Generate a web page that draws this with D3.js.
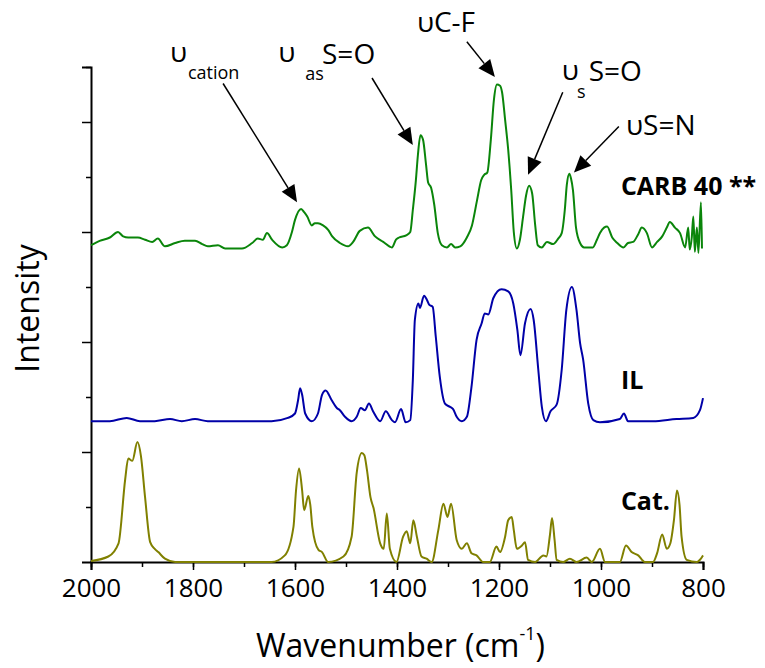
<!DOCTYPE html>
<html>
<head>
<meta charset="utf-8">
<script src="https://cdn.jsdelivr.net/npm/d3@7"></script>
<style>
  body { margin: 0; background: #fff; }
  text { font-family: "Open Sans", "DejaVu Sans", sans-serif; }
</style>
</head>
<body>
<div id="chart"></div>
<script>
// Spectra (wavenumber in cm-1, stacked intensity)
//=====================================================================
var carbWave = [2000,1983,1963,1947,1937,1927,1908,1894,1880,1869,1855,1835,1816,1796,1782,1771,1751,1737,1724,1704,1684,1673,1663,1655,1645,1625,1616,1606,1600,1588,1582,1576,1567,1561,1555,1545,1535,1527,1512,1496,1486,1473,1457,1443,1427,1410,1402,1396,1382,1374,1369,1363,1359,1354,1349,1343,1339,1333,1327,1320,1312,1302,1294,1286,1276,1263,1253,1243,1235,1229,1223,1216,1210,1204,1198,1194,1188,1182,1176,1171,1165,1159,1153,1147,1141,1135,1129,1124,1116,1106,1094,1084,1077,1071,1067,1062,1059,1055,1049,1041,1033,1016,1008,1002,994,988,978,968,956,947,937,927,920,910,900,890,880,871,865,855,845,835,829,826,822,819,816,812,809,804,802];
var carbInt  = [2.88,2.92,2.95,3.00,2.96,2.95,2.95,2.93,2.91,2.94,2.87,2.90,2.92,2.92,2.89,2.87,2.88,2.85,2.85,2.85,2.90,2.94,2.93,2.99,2.93,2.86,2.88,3.00,3.11,3.21,3.18,3.14,3.06,3.08,3.08,3.06,3.02,2.96,2.90,2.87,2.91,3.01,3.04,2.96,2.91,2.86,2.93,2.95,2.97,3.00,3.20,3.47,3.70,3.88,3.84,3.61,3.45,3.40,3.25,2.99,2.88,2.86,2.89,2.86,2.87,2.95,3.06,3.29,3.47,3.52,3.54,3.84,4.20,4.34,4.33,4.27,4.02,3.75,3.38,3.00,2.85,2.93,3.13,3.33,3.42,3.35,3.06,2.88,2.86,2.91,2.89,2.94,2.99,3.20,3.43,3.53,3.49,3.38,3.04,2.90,2.86,2.86,2.93,2.99,3.04,3.05,2.95,2.90,2.86,2.90,2.91,2.98,3.04,2.99,2.86,2.91,2.96,3.04,3.09,3.04,2.99,2.86,3.04,2.84,2.95,3.14,2.82,3.04,2.81,3.27,2.85];

var ilWave = [2000,1963,1930,1904,1875,1845,1822,1796,1771,1712,1646,1614,1600,1594,1590,1586,1580,1567,1555,1547,1540,1528,1518,1512,1502,1489,1479,1471,1463,1455,1447,1433,1422,1410,1404,1392,1383,1374,1369,1365,1358,1355,1347,1341,1337,1330,1324,1316,1306,1296,1290,1283,1273,1263,1254,1244,1234,1228,1221,1211,1195,1182,1172,1164,1158,1149,1138,1132,1123,1116,1108,1099,1087,1077,1068,1057,1048,1041,1035,1025,1015,1002,963,955,947,898,852,819,806,800];
var ilInt  = [1.28,1.28,1.31,1.28,1.28,1.30,1.28,1.30,1.28,1.28,1.28,1.31,1.35,1.47,1.58,1.52,1.35,1.28,1.35,1.52,1.56,1.47,1.40,1.38,1.32,1.28,1.32,1.40,1.38,1.44,1.37,1.28,1.37,1.29,1.27,1.39,1.27,1.29,1.65,2.20,2.35,2.31,2.42,2.38,2.34,2.32,2.05,1.68,1.44,1.41,1.39,1.32,1.28,1.32,1.59,2.02,2.17,2.26,2.25,2.40,2.48,2.46,2.35,2.11,1.88,2.17,2.30,2.20,1.75,1.41,1.28,1.37,1.43,1.75,2.29,2.50,2.29,1.99,1.84,1.44,1.29,1.27,1.30,1.35,1.28,1.28,1.30,1.31,1.38,1.49];

var catWave = [2000,1966,1946,1933,1927,1919,1909,1902,1894,1884,1875,1868,1855,1835,1646,1620,1603,1598,1592,1586,1582,1574,1570,1566,1554,1547,1535,1505,1489,1479,1469,1464,1459,1452,1446,1433,1426,1420,1414,1401,1388,1381,1374,1368,1361,1352,1342,1332,1319,1309,1301,1294,1283,1273,1263,1254,1244,1231,1218,1205,1198,1188,1182,1175,1171,1165,1155,1149,1143,1129,1113,1107,1100,1096,1091,1087,1074,1061,1048,1028,1018,1002,992,963,951,940,927,914,898,890,880,871,864,857,851,846,842,832,812,806,800];
var catInt  = [0.01,0.05,0.17,0.75,0.94,0.92,1.09,0.96,0.59,0.18,0.12,0.09,0.03,0.00,0.00,0.06,0.32,0.65,0.85,0.65,0.47,0.60,0.52,0.32,0.11,0.09,0.00,0.05,0.23,0.81,0.99,0.97,0.84,0.59,0.49,0.17,0.12,0.44,0.12,0.00,0.23,0.28,0.17,0.38,0.23,0.05,0.03,0.00,0.29,0.53,0.41,0.53,0.20,0.12,0.17,0.08,0.06,0.00,0.00,0.14,0.09,0.23,0.38,0.41,0.29,0.12,0.15,0.18,0.02,0.00,0.06,0.05,0.25,0.40,0.20,0.02,0.00,0.03,0.00,0.04,0.00,0.12,0.00,0.00,0.15,0.09,0.06,0.00,0.00,0.08,0.25,0.12,0.17,0.38,0.65,0.52,0.23,0.02,0.00,0.02,0.06];

var seriesNames  = ["CARB 40 **", "IL", "Cat."];
var seriesColors = ["#0a850a", "#0000a8", "#808000"];
// where the series names sit (wavenumber, intensity of baseline)
var nameWave = [961, 961, 961];
var nameInt  = [3.34, 1.57, 0.47];

var xTicks = [2000, 1800, 1600, 1400, 1200, 1000, 800];

// band assignments: arrow tail / tip and the label pieces
var bandTail  = [[1741, 4.35], [1449, 4.40], [1263, 4.73], [1075, 4.27], [965, 3.96]];
var bandTip   = [[1596, 3.27], [1369, 3.79], [1208, 4.41], [1143, 3.52], [1053, 3.54]];
var bandMain  = [["υ", 1845, 4.545], ["υ", 1633, 4.545], ["υC-F", 1361, 4.818], ["υ", 1077, 4.38], ["υS=N", 951, 3.88]];
var bandSub   = [["cation", 1810, 4.39], ["as", 1580, 4.38], null, ["s", 1047, 4.22], null];
var bandAfter = [null, ["S=O", 1547, 4.527], null, ["S=O", 1024, 4.373], null];

// Set up the chart
//=================================
var svgWidth = 765;
var svgHeight = 668;
var margin = { top: 67, right: 62, bottom: 106, left: 91 };
var width = svgWidth - margin.left - margin.right;
var height = svgHeight - margin.top - margin.bottom;

var svg = d3.select("#chart")
  .append("svg")
  .attr("width", svgWidth)
  .attr("height", svgHeight);

var chartGroup = svg.append("g")
  .attr("transform", `translate(${margin.left}, ${margin.top})`);

var xScale = d3.scaleLinear().domain([2000, 800]).range([0, width]);
var yScale = d3.scaleLinear().domain([0, 4.5]).range([height, 0]);

// axes with minor ticks
//=================================
var xMinor = d3.range(2000, 799, -100);
var yMinor = d3.range(0.5, 4.6, 1);
var yMajor = [1, 2, 3, 4];

chartGroup.append("g")
  .attr("transform", `translate(0, ${height})`)
  .call(d3.axisBottom(xScale).tickValues(xMinor).tickSize(5).tickFormat(""))
  .call(g => g.select(".domain").remove())
  .selectAll("line").attr("stroke-width", 1.5);

chartGroup.append("g")
  .call(d3.axisLeft(yScale).tickValues(yMinor).tickSize(5).tickFormat(""))
  .call(g => g.select(".domain").remove())
  .selectAll("line").attr("stroke-width", 1.5);

var xAxis = chartGroup.append("g")
  .attr("transform", `translate(0, ${height})`)
  .call(d3.axisBottom(xScale).tickValues(xTicks).tickSize(8).tickPadding(9).tickFormat(d3.format("d")));
xAxis.select(".domain").attr("stroke-width", 2);
xAxis.selectAll("line").attr("stroke-width", 1.5);
xAxis.selectAll("text").attr("font-size", "26px").attr("fill", "#000")
  .style("font-family", "'Open Sans', sans-serif");

var yAxis = chartGroup.append("g")
  .call(d3.axisLeft(yScale).tickValues(yMajor).tickSize(9).tickFormat(""));
yAxis.select(".domain").attr("stroke-width", 2);
yAxis.selectAll("line").attr("stroke-width", 1.5);

// spectra
//=================================
var line = d3.line()
  .x(d => xScale(d[0]))
  .y(d => yScale(d[1]))
  .curve(d3.curveMonotoneX);

var spectra = [
  d3.zip(carbWave, carbInt),
  d3.zip(ilWave, ilInt),
  d3.zip(catWave, catInt)
];

spectra.forEach(function(data, i) {
  chartGroup.append("path")
    .datum(data)
    .attr("fill", "none")
    .attr("stroke", seriesColors[i])
    .attr("stroke-width", 2)
    .attr("stroke-linejoin", "round")
    .attr("d", line);

  chartGroup.append("text")
    .attr("x", xScale(nameWave[i]))
    .attr("y", yScale(nameInt[i]))
    .attr("font-size", "25px")
    .attr("font-weight", "bold")
    .text(seriesNames[i]);
});

// band arrows and labels
//=================================
bandTail.forEach(function(tail, i) {
  var x0 = xScale(tail[0]), y0 = yScale(tail[1]);
  var x1 = xScale(bandTip[i][0]), y1 = yScale(bandTip[i][1]);
  var len = Math.hypot(x1 - x0, y1 - y0);
  var ux = (x1 - x0) / len, uy = (y1 - y0) / len;
  var headLen = 17, headW = 7.5;
  var bx = x1 - ux * headLen, by = y1 - uy * headLen;

  chartGroup.append("line")
    .attr("x1", x0).attr("y1", y0)
    .attr("x2", bx).attr("y2", by)
    .attr("stroke", "#000")
    .attr("stroke-width", 1.5);

  chartGroup.append("polygon")
    .attr("points", [[x1, y1], [bx - uy * headW, by + ux * headW], [bx + uy * headW, by - ux * headW]].join(" "))
    .attr("fill", "#000");

  var m = bandMain[i];
  chartGroup.append("text")
    .attr("x", xScale(m[1])).attr("y", yScale(m[2]))
    .attr("font-size", "28px")
    .text(m[0]);

  if (bandSub[i]) {
    chartGroup.append("text")
      .attr("x", xScale(bandSub[i][1])).attr("y", yScale(bandSub[i][2]))
      .attr("font-size", "18px")
      .text(bandSub[i][0]);
  }
  if (bandAfter[i]) {
    chartGroup.append("text")
      .attr("x", xScale(bandAfter[i][1])).attr("y", yScale(bandAfter[i][2]))
      .attr("font-size", "28px")
      .text(bandAfter[i][0]);
  }
});

// axis titles
//=================================
svg.append("text")
  .attr("transform", `translate(39, ${margin.top + height / 2 - 6}) rotate(-90)`)
  .attr("text-anchor", "middle")
  .attr("font-size", "32px")
  .text("Intensity");

var xTitle = svg.append("text")
  .attr("x", 256)
  .attr("y", 657)
  .attr("font-size", "32px");
xTitle.append("tspan").text("Wavenumber (cm");
xTitle.append("tspan").attr("font-size", "18px").attr("dy", -17).text("-1");
xTitle.append("tspan").attr("dy", 17).text(")");
</script>
</body>
</html>
